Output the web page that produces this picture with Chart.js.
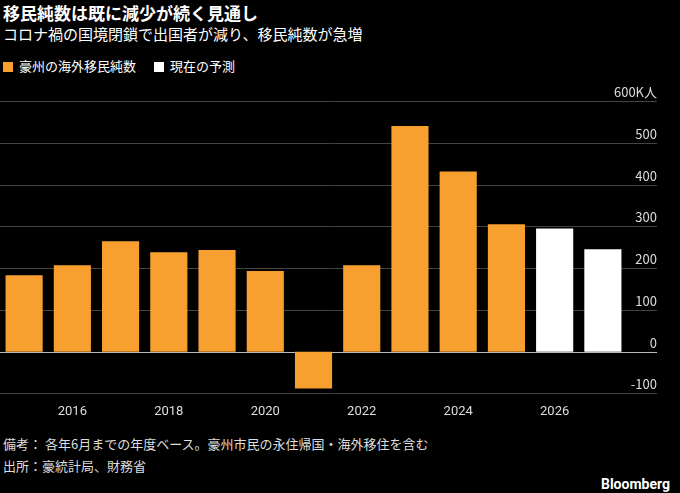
<!DOCTYPE html>
<html><head><meta charset="utf-8">
<script src="https://cdn.jsdelivr.net/npm/chart.js@4"></script>
<style>
body{margin:0;background:#000;width:680px;height:493px;overflow:hidden;font-family:"Noto Sans CJK JP",sans-serif;color:#fff;position:relative}
.t{position:absolute;left:3px;top:0;font-size:17px;font-weight:bold}
.s{position:absolute;left:3px;top:23px;font-size:15px}
.lg{position:absolute;left:3px;top:56px;font-size:13px}
.lg span.b{display:inline-block;width:10px;height:10px;margin-right:6px;vertical-align:-1px}
.f{position:absolute;left:3px;font-size:13px;color:#ddd}
.bb{position:absolute;right:10px;top:476px;font-family:Roboto,sans-serif;font-weight:bold;font-size:14px}
#wrap{position:absolute;left:0;top:80px;width:680px;height:343px}
</style></head><body>
<div class="t">移民純数は既に減少が続く見通し</div>
<div class="s">コロナ禍の国境閉鎖で出国者が減り、移民純数が急増</div>
<div class="lg"><span class="b" style="background:#f7a030"></span>豪州の海外移民純数<span class="b" style="background:#fff;margin-left:18px"></span>現在の予測</div>
<div id="wrap"><canvas id="c"></canvas></div>
<div class="f" style="top:434px">備考： 各年6月までの年度ベース。豪州市民の永住帰国・海外移住を含む</div>
<div class="f" style="top:456px">出所：豪統計局、財務省</div>
<div class="bb">Bloomberg</div>
<script>
const years = ['2015','2016','2017','2018','2019','2020','2021','2022','2023','2024','2025','2026','2027'];
const values = [183, 207, 264, 238, 243, 193, -88, 207, 540, 431, 305, 295, 245];
const forecast = [false,false,false,false,false,false,false,false,false,false,false,true,true];
const yTicks = [-100, 0, 100, 200, 300, 400, 500, 600];
const yLabels = ['-100','0','100','200','300','400','500','600K人'];

const gridPlugin = {
  id: 'grid',
  beforeDatasetsDraw(chart) {
    const {ctx, scales: {y}} = chart;
    ctx.save();
    yTicks.forEach((v, i) => {
      const py = Math.round(y.getPixelForValue(v)) + 0.5;
      ctx.strokeStyle = v === 0 ? '#bbbbbb' : '#444444';
      ctx.lineWidth = 1;
      ctx.beginPath(); ctx.moveTo(0, py); ctx.lineTo(657, py); ctx.stroke();
      ctx.fillStyle = '#dddddd';
      ctx.font = '13px "Noto Sans CJK JP", sans-serif';
      ctx.textAlign = 'right'; ctx.textBaseline = 'bottom';
      ctx.fillText(yLabels[i], 657, py - 3);
    });
    ctx.restore();
  }
};

new Chart(document.getElementById('c'), {
  type: 'bar',
  data: { labels: years, datasets: [{
    data: values,
    backgroundColor: forecast.map(f => f ? '#ffffff' : '#f7a030'),
    categoryPercentage: 0.77, barPercentage: 1
  }]},
  options: {
    responsive: true, maintainAspectRatio: false, animation: false,
    layout: { padding: { top: 21, right: 53, left: 0 } },
    plugins: { legend: { display: false }, tooltip: { enabled: false } },
    scales: {
      y: { display: false, min: -100, max: 600 },
      x: { grid: { display: false }, border: { display: false },
        ticks: { color: '#dddddd', font: { size: 13, family: 'Roboto' }, autoSkip: false, maxRotation: 0,
          callback: (v, i) => (+years[i]) % 2 === 0 ? years[i] : '' } }
    }
  },
  plugins: [gridPlugin]
});
</script>
</body></html>
